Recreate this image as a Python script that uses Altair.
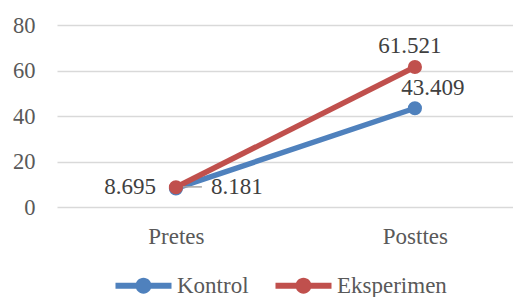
import altair as alt
import pandas as pd

categories = ["Pretes", "Posttes"]
series_names = ["Kontrol", "Eksperimen"]
kontrol = [8.181, 43.409]
eksperimen = [8.695, 61.521]
colors = ["#4F81BD", "#C0504D"]
y_ticks = [0, 20, 40, 60, 80]

rows = []
for name, vals in zip(series_names, [kontrol, eksperimen]):
    for c, v in zip(categories, vals):
        rows.append({"series": name, "cat": c, "value": v, "label": f"{v:.3f}"})
df = pd.DataFrame(rows)

FONT = "Liberation Serif"
TXT = "#404040"
FS = 23

legend_symbol = (
    "M-2.5,-0.27 H2.5 V0.27 H-2.5 Z "
    "M-0.71,0 A0.71,0.71 0 1,1 0.71,0 A0.71,0.71 0 1,1 -0.71,0 Z"
)
legend = alt.Legend(
    title=None, orient="none", direction="horizontal",
    legendX=75, legendY=249, padding=0,
    symbolType=legend_symbol, symbolSize=502, symbolStrokeWidth=0,
    labelFont=FONT, labelFontSize=FS, labelColor="#595959",
    labelOffset=22, columnPadding=26,
)

x_enc = alt.X("cat:N", sort=categories, title=None,
              scale=alt.Scale(type="point", padding=0.454, align=0.548),
              axis=alt.Axis(labelAngle=0, labelFont=FONT, labelFontSize=FS,
                            labelColor="#595959", ticks=False, domain=False,
                            grid=False, labelPadding=18))
y_enc = alt.Y("value:Q", title=None,
              scale=alt.Scale(domain=[0, 80], nice=False),
              axis=alt.Axis(values=y_ticks, labelFont=FONT, labelFontSize=22.5,
                            labelColor="#595959", ticks=False, domain=False,
                            gridColor="#D9D9D9", gridWidth=1.5, labelPadding=22))
color_enc = alt.Color("series:N", scale=alt.Scale(domain=series_names, range=colors),
                      legend=legend)

base = alt.Chart(df)
is_post = alt.datum.cat == "Posttes"
is_pre = alt.datum.cat == "Pretes"
is_k = alt.datum.series == "Kontrol"
is_e = alt.datum.series == "Eksperimen"

lines = base.mark_line(strokeWidth=5.5).encode(x=x_enc, y=y_enc, color=color_enc)
points = base.mark_point(filled=True, size=200, opacity=1).encode(
    x=x_enc, y=y_enc, color=color_enc)

text_post_e = base.transform_filter(is_post & is_e).mark_text(
    font=FONT, fontSize=FS, color=TXT, baseline="alphabetic", dx=-5, dy=-14).encode(
    x=x_enc, y=y_enc, text="label:N")
text_post_k = base.transform_filter(is_post & is_k).mark_text(
    font=FONT, fontSize=FS, color=TXT, baseline="alphabetic", dx=18, dy=-13).encode(
    x=x_enc, y=y_enc, text="label:N")
text_pre_e = base.transform_filter(is_pre & is_e).mark_text(
    font=FONT, fontSize=FS, color=TXT, align="right", dx=-20, dy=0).encode(
    x=x_enc, y=y_enc, text="label:N")
text_pre_k = base.transform_filter(is_pre & is_k).mark_text(
    font=FONT, fontSize=FS, color=TXT, align="left", dx=35, dy=-1.5).encode(
    x=x_enc, y=y_enc, text="label:N")
leader = base.transform_filter(is_pre & is_k).mark_rule(
    color="#A6A6A6", strokeWidth=1.5, xOffset=2, x2Offset=26, yOffset=-1.5).encode(
    x=x_enc, x2="cat:N", y=y_enc)

chart = alt.layer(lines, leader, points, text_post_e, text_post_k,
                  text_pre_e, text_pre_k).properties(
    width=456, height=182,
    autosize=alt.AutoSizeParams(type="none"),
    padding={"left": 49, "top": 17, "right": 0, "bottom": 90},
).configure_view(stroke=None)

chart.save("out.html", embed_options={"renderer": "svg", "actions": False})
